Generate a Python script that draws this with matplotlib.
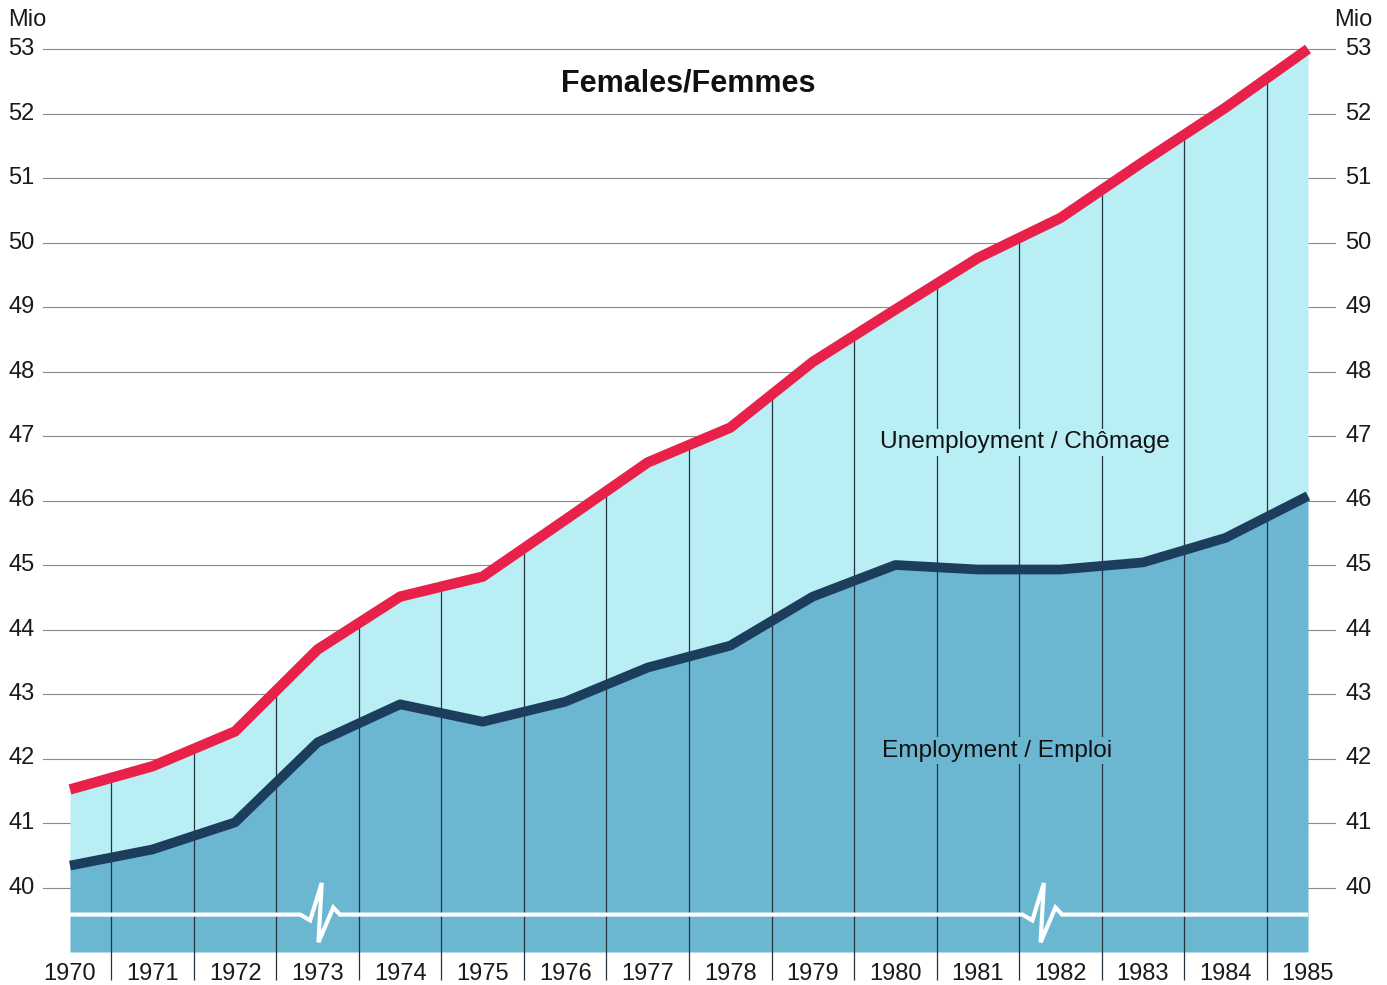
import numpy as np
import matplotlib
matplotlib.use("Agg")
import matplotlib.pyplot as plt
import matplotlib.transforms as mtransforms

plt.rcParams['font.family'] = ['Liberation Sans', 'DejaVu Sans']

# data (million persons)
years = np.arange(1970, 1986)
labour_force = [41.52, 41.88, 42.42, 43.69, 44.51, 44.82, 45.70, 46.59,
                47.13, 48.15, 48.96, 49.76, 50.38, 51.25, 52.09, 53.00]
employment = [40.34, 40.59, 41.01, 42.25, 42.84, 42.57, 42.88, 43.41,
              43.75, 44.51, 45.00, 44.93, 44.93, 45.04, 45.42, 46.07]
y_ticks = list(range(40, 54))
breaks_at = [1972.79, 1981.54]

light = '#b9eef4'
dark = '#6bb7d1'
red = '#e8214a'
navy = '#1c3d5c'
grid = '#8a8a8a'

fig = plt.figure(figsize=(13.87, 9.85), dpi=100)
W, H = 1387, 985
ax = fig.add_axes([70 / W, 1 - 952 / H, (1308 - 70) / W, (952 - 49) / H])
ax.set_xlim(1970, 1985)
ax.set_ylim(39, 53)
for s in ax.spines.values():
    s.set_visible(False)
ax.set_yticks([])

trans = mtransforms.blended_transform_factory(ax.transAxes, ax.transData)

# gridlines running behind the areas, out to the tick labels
x0 = (43 - 70) / 1238
x1 = (1335 - 70) / 1238
for v in y_ticks:
    ax.plot([x0, x1], [v, v], transform=trans, color=grid, lw=0.8,
            clip_on=False, zorder=0)
    ax.text(-0.050, v, str(v), transform=trans, ha='left', va='center',
            fontsize=17, color='#1a1a1a')
    ax.text(1.0299, v, str(v), transform=trans, ha='left', va='center',
            fontsize=17, color='#1a1a1a')
ax.text(-0.050, 53.45, 'Mio', transform=trans, ha='left', va='center',
        fontsize=17, color='#1a1a1a')
ax.text(1.0210, 53.45, 'Mio', transform=trans, ha='left', va='center',
        fontsize=17, color='#1a1a1a')

# areas
ax.fill_between(years, 39, employment, color=dark, lw=0, zorder=1)
ax.fill_between(years, employment, labour_force, color=light, lw=0, zorder=1)

# year dividers
mids = years[:-1] + 0.5
tops = np.interp(mids, years, labour_force)
ax.vlines(mids, 38.57, tops, color='#26343f', lw=0.9, zorder=2, clip_on=False)

# axis break line
bx, by = [1970], [39.58]
for b in breaks_at:
    bx += [b, b + 0.12, b + 0.26, b + 0.22, b + 0.40, b + 0.48]
    by += [39.58, 39.49, 40.07, 39.15, 39.69, 39.58]
bx.append(1985)
by.append(39.58)
ax.plot(bx, by, color='white', lw=3, zorder=3, solid_joinstyle='miter')

# series lines
ax.plot(years, employment, color=navy, lw=7, zorder=4, clip_on=False,
        solid_capstyle='butt')
ax.plot(years, labour_force, color=red, lw=7.5, zorder=5, clip_on=False,
        solid_capstyle='butt')

ax.set_xticks(years)
ax.set_xticklabels([str(y) for y in years], fontsize=17, color='#1a1a1a')
ax.tick_params(axis='x', length=0, pad=8)

ax.text(1977.49, 52.47, 'Females/Femmes', ha='center', va='center',
        fontsize=22, fontweight='bold', color='#111111', zorder=6)
ax.text(1981.57, 46.9, 'Unemployment / Chômage', ha='center', va='center',
        fontsize=17.6, color='#111111', zorder=6,
        bbox=dict(facecolor=light, edgecolor='none', pad=2))
ax.text(1981.23, 42.12, 'Employment / Emploi', ha='center', va='center',
        fontsize=17.6, color='#111111', zorder=6,
        bbox=dict(facecolor=dark, edgecolor='none', pad=2))

fig.savefig('out.png', dpi=100, facecolor='white')
